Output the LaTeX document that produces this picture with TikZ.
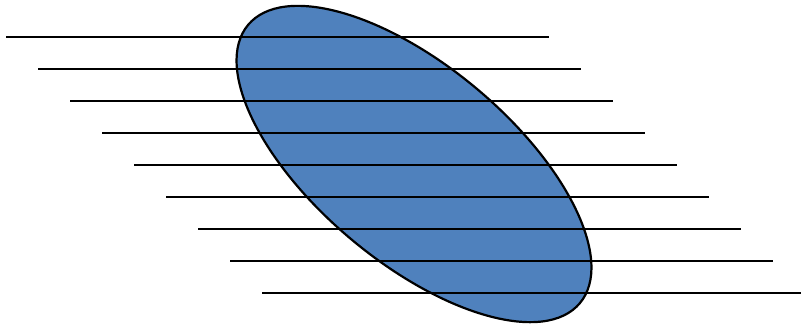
\documentclass[tikz,border=0pt]{standalone}
\usepackage{tikz}
\usetikzlibrary{positioning}
\definecolor{OvalBlue}{RGB}{79,129,189}
\newcommand{\stripe}[1]{%
  \draw[line width=2.2pt] (6+32*#1,37+32*#1)--++(543,0);}

\begin{document}
\begin{tikzpicture}[x=1pt,y=-1pt]
  \useasboundingbox (0,0) rectangle (801,325);
  \filldraw[fill=OvalBlue,draw=black,line width=2.2pt,rotate around={-40:(414,164)}]
    (414,164) ellipse (216.5 and 98);
  \foreach \k in {0,...,8} {\stripe{\k}}
\end{tikzpicture}
\end{document}
